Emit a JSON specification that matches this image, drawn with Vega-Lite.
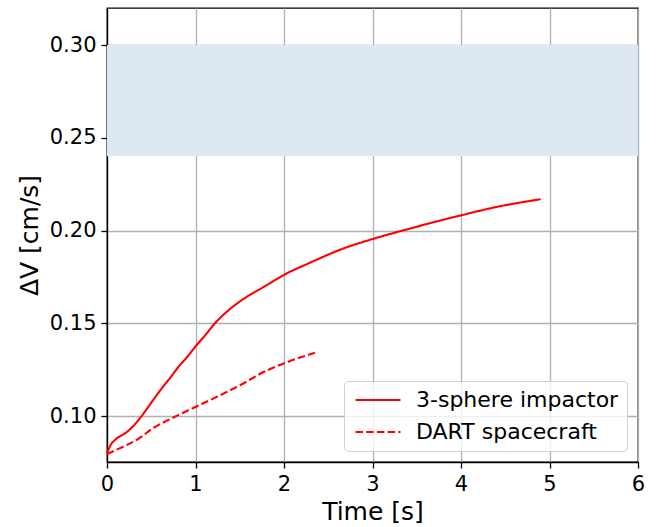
{
  "$schema": "https://vega.github.io/schema/vega-lite/v6.json",
  "width": 531,
  "height": 454,
  "autosize": {"type": "none"},
  "padding": {"left": 107, "top": 8, "right": 21, "bottom": 65},
  "config": {
    "font": "DejaVu Sans",
    "view": {"stroke": "black", "strokeWidth": 1.3},
    "axis": {
      "domainColor": "black",
      "domainWidth": 1.3,
      "tickColor": "black",
      "tickWidth": 1.3,
      "tickSize": 6,
      "labelFontSize": 21,
      "labelColor": "black",
      "labelFlush": false,
      "titleFontSize": 25,
      "titleFontWeight": "normal",
      "titleColor": "black",
      "gridColor": "#b0b0b0",
      "gridWidth": 1.3,
      "gridOpacity": 1,
      "labelPadding": 5
    }
  },
  "datasets": {
    "lines": [
      {"t": 0.0, "dv": 0.0798, "series": "3-sphere impactor"},
      {"t": 0.034, "dv": 0.0838, "series": "3-sphere impactor"},
      {"t": 0.09, "dv": 0.0871, "series": "3-sphere impactor"},
      {"t": 0.21, "dv": 0.0909, "series": "3-sphere impactor"},
      {"t": 0.31, "dv": 0.0952, "series": "3-sphere impactor"},
      {"t": 0.38, "dv": 0.0993, "series": "3-sphere impactor"},
      {"t": 0.52, "dv": 0.1085, "series": "3-sphere impactor"},
      {"t": 0.62, "dv": 0.115, "series": "3-sphere impactor"},
      {"t": 0.712, "dv": 0.1205, "series": "3-sphere impactor"},
      {"t": 0.82, "dv": 0.1272, "series": "3-sphere impactor"},
      {"t": 0.9, "dv": 0.1315, "series": "3-sphere impactor"},
      {"t": 1.0, "dv": 0.1375, "series": "3-sphere impactor"},
      {"t": 1.107, "dv": 0.1434, "series": "3-sphere impactor"},
      {"t": 1.22, "dv": 0.15, "series": "3-sphere impactor"},
      {"t": 1.39, "dv": 0.1577, "series": "3-sphere impactor"},
      {"t": 1.58, "dv": 0.1643, "series": "3-sphere impactor"},
      {"t": 1.768, "dv": 0.1695, "series": "3-sphere impactor"},
      {"t": 2.0, "dv": 0.1761, "series": "3-sphere impactor"},
      {"t": 2.296, "dv": 0.1827, "series": "3-sphere impactor"},
      {"t": 2.71, "dv": 0.191, "series": "3-sphere impactor"},
      {"t": 3.0, "dv": 0.1954, "series": "3-sphere impactor"},
      {"t": 3.465, "dv": 0.2016, "series": "3-sphere impactor"},
      {"t": 4.0, "dv": 0.2082, "series": "3-sphere impactor"},
      {"t": 4.41, "dv": 0.2128, "series": "3-sphere impactor"},
      {"t": 4.9, "dv": 0.2169, "series": "3-sphere impactor"},
      {"t": 0.0, "dv": 0.0795, "series": "DART spacecraft"},
      {"t": 0.147, "dv": 0.0827, "series": "DART spacecraft"},
      {"t": 0.335, "dv": 0.0871, "series": "DART spacecraft"},
      {"t": 0.523, "dv": 0.0935, "series": "DART spacecraft"},
      {"t": 0.749, "dv": 0.0992, "series": "DART spacecraft"},
      {"t": 1.006, "dv": 0.105, "series": "DART spacecraft"},
      {"t": 1.239, "dv": 0.1103, "series": "DART spacecraft"},
      {"t": 1.503, "dv": 0.1166, "series": "DART spacecraft"},
      {"t": 1.804, "dv": 0.1245, "series": "DART spacecraft"},
      {"t": 1.99, "dv": 0.1282, "series": "DART spacecraft"},
      {"t": 2.18, "dv": 0.1315, "series": "DART spacecraft"},
      {"t": 2.35, "dv": 0.1341, "series": "DART spacecraft"}
    ],
    "band": [{"lo": 0.24, "hi": 0.30}]
  },
  "layer": [
    {
      "data": {"name": "band"},
      "mark": {"type": "rect", "color": "#dde8f3", "opacity": 1},
      "encoding": {
        "y": {"field": "lo", "type": "quantitative", "scale": {"domain": [0.0752, 0.32], "nice": false, "zero": false}},
        "y2": {"field": "hi"}
      }
    },
    {
      "data": {"name": "lines"},
      "mark": {"type": "line", "color": "red", "strokeWidth": 2.1, "interpolate": "monotone"},
      "encoding": {
        "x": {
          "field": "t", "type": "quantitative",
          "scale": {"domain": [0, 6], "nice": false},
          "axis": {"title": "Time [s]", "values": [0, 1, 2, 3, 4, 5, 6], "format": "d", "titlePadding": 5}
        },
        "y": {
          "field": "dv", "type": "quantitative",
          "scale": {"domain": [0.0752, 0.32], "nice": false, "zero": false},
          "axis": {"title": "ΔV [cm/s]", "values": [0.1, 0.15, 0.2, 0.25, 0.3], "format": ".2f", "titlePadding": 7}
        },
        "strokeDash": {
          "field": "series", "type": "nominal",
          "scale": {"domain": ["3-sphere impactor", "DART spacecraft"], "range": [[1, 0], [7.5, 3.2]]},
          "legend": {
            "title": null,
            "orient": "bottom-right",
            "offset": 11,
            "symbolType": "M-3,0L3,0",
            "symbolStrokeColor": "red",
            "symbolStrokeWidth": 2.1,
            "symbolSize": 225,
            "symbolOffset": 15,
            "labelFontSize": 22,
            "labelColor": "black",
            "labelLimit": 0,
            "strokeColor": "#d0d0d0",
            "fillColor": "rgba(255,255,255,0.8)",
            "cornerRadius": 4,
            "padding": 8,
            "rowPadding": 10,
            "labelOffset": 27
          }
        }
      }
    }
  ]
}
